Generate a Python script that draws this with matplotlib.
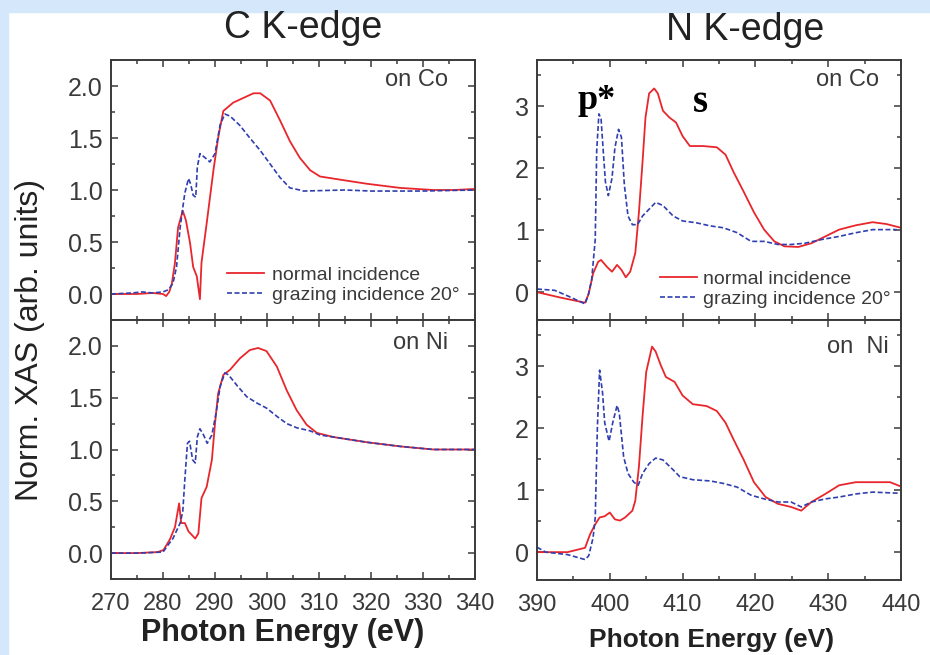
import matplotlib
matplotlib.use("Agg")
import matplotlib.pyplot as plt
from matplotlib import font_manager
from matplotlib.patches import Rectangle
from matplotlib.ticker import MultipleLocator

# pick fonts that exist here
names = {f.name for f in font_manager.fontManager.ttflist}
sans = "Liberation Sans" if "Liberation Sans" in names else "DejaVu Sans"
serif = "Liberation Serif" if "Liberation Serif" in names else "DejaVu Serif"
plt.rcParams["font.family"] = [sans, "DejaVu Sans"]

# C K-edge on Co
c_co_norm_e = [270, 275, 278, 280, 280.6, 281.2, 281.7, 282.3, 282.9, 283.8, 284.4, 285.2, 285.8, 286.5,
               287.1, 287.4, 288.4, 289.7, 290.6, 291.6, 293.5, 296.1, 297.4, 298.7, 300.6, 302.5, 304.4,
               306.3, 308.3, 310.2, 314.0, 319.2, 325.6, 332, 336, 340]
c_co_norm_y = [0, 0, 0.01, 0, -0.02, 0.02, 0.1, 0.3, 0.64, 0.80, 0.71, 0.49, 0.26, 0.17,
               -0.05, 0.3, 0.68, 1.19, 1.5, 1.76, 1.84, 1.90, 1.93, 1.93, 1.86, 1.67, 1.47,
               1.31, 1.19, 1.13, 1.10, 1.06, 1.02, 1.0, 1.0, 1.01]
c_co_graz_e = [270, 274, 276, 278, 280, 281, 281.9, 282.6, 283.3, 283.8, 284.2, 284.9, 285.3, 285.8,
               286.3, 286.6, 287.1, 288.1, 289.0, 290.0, 291.0, 291.9, 292.9, 294.8, 296.7, 298.7,
               300.6, 302.5, 304.4, 306.3, 307, 315, 320, 330, 340]
c_co_graz_y = [0, 0.01, 0.02, 0.01, 0.02, 0.04, 0.1, 0.26, 0.64, 0.83, 0.97, 1.11, 1.06, 0.95,
               0.93, 1.22, 1.35, 1.31, 1.27, 1.35, 1.63, 1.73, 1.71, 1.62, 1.50, 1.38,
               1.25, 1.12, 1.02, 1.0, 0.99, 1.0, 0.99, 0.99, 1.0]

# C K-edge on Ni
c_ni_norm_e = [270, 275, 279, 280.1, 281.3, 282.3, 283.1, 283.5, 284.2, 284.9, 286.2, 286.8, 287.4,
               288.4, 289.4, 290.0, 290.6, 291.6, 292.9, 294.8, 296.7, 298.3, 299.9, 301.9, 303.8,
               305.7, 307.6, 309.6, 312.8, 319.2, 325.6, 332, 340]
c_ni_norm_y = [0, 0, 0.01, 0.03, 0.13, 0.25, 0.48, 0.29, 0.29, 0.21, 0.14, 0.19, 0.53,
               0.64, 0.90, 1.25, 1.54, 1.72, 1.77, 1.88, 1.96, 1.98, 1.95, 1.80, 1.57,
               1.38, 1.24, 1.16, 1.12, 1.07, 1.03, 1.0, 1.0]
c_ni_graz_e = [270, 275, 280, 280.7, 281.9, 283.3, 283.8, 284.2, 284.7, 285.1, 285.7, 286.2, 286.6,
               287.1, 287.8, 288.5, 289.4, 290.2, 291.0, 291.9, 292.6, 294.2, 296.1, 298.0, 299.9,
               301.9, 303.8, 305.7, 308.3, 310.2, 312.8, 319.2, 325.6, 332, 340]
c_ni_graz_y = [0, 0, 0.01, 0.06, 0.14, 0.29, 0.40, 0.71, 1.06, 1.08, 0.90, 0.87, 1.12,
               1.20, 1.14, 1.06, 1.14, 1.35, 1.61, 1.74, 1.72, 1.62, 1.51, 1.45, 1.40,
               1.32, 1.25, 1.21, 1.18, 1.14, 1.12, 1.07, 1.03, 1.0, 1.0]

# N K-edge on Co
n_co_norm_e = [390, 393.3, 396.6, 397.1, 397.7, 398.4, 398.8, 399.6, 400.3, 401.0, 401.6, 402.2, 402.8,
               403.5, 404.0, 404.5, 404.9, 405.4, 406.1, 406.6, 407.3, 408.2, 409.1, 410.0, 411.0,
               412.8, 414.7, 415.9, 417.0, 418.4, 419.8, 421.2, 422.6, 424.0, 425.9, 427.7, 429.6,
               431.5, 433.8, 436.1, 438.0, 440]
n_co_norm_y = [0, -0.09, -0.17, -0.03, 0.30, 0.49, 0.52, 0.41, 0.33, 0.44, 0.36, 0.24, 0.33,
               0.63, 1.29, 2.11, 2.82, 3.21, 3.29, 3.21, 2.93, 2.82, 2.74, 2.52, 2.36,
               2.36, 2.34, 2.22, 1.94, 1.62, 1.29, 1.01, 0.82, 0.74, 0.73, 0.79, 0.90,
               1.01, 1.08, 1.13, 1.10, 1.04]
n_co_graz_e = [390, 392.4, 394.2, 396.6, 397.0, 397.5, 398.0, 398.2, 398.5, 398.8, 399.1, 399.4, 399.8,
               400.3, 400.7, 401.2, 401.6, 402.0, 402.5, 403.1, 403.8, 404.5, 405.4, 406.3, 407.3,
               408.7, 410.0, 411.9, 413.8, 415.6, 417.5, 419.4, 421.2, 423.1, 424.9, 426.8, 429.1,
               431.5, 433.8, 436.1, 439.4]
n_co_graz_y = [0.05, 0.03, -0.06, -0.19, -0.06, 0.19, 0.85, 2.28, 2.88, 2.80, 2.28, 1.78, 1.56,
               1.84, 2.33, 2.63, 2.50, 1.73, 1.23, 1.09, 1.09, 1.23, 1.34, 1.45, 1.40,
               1.23, 1.15, 1.12, 1.07, 1.04, 0.96, 0.82, 0.82, 0.77, 0.77, 0.79, 0.85,
               0.90, 0.96, 1.01, 1.01]

# N K-edge on Ni
n_ni_norm_e = [390, 394.2, 396.6, 397.3, 398.0, 398.6, 399.3, 400.0, 400.7, 401.4, 402.1, 403.1, 403.5,
               404.0, 404.5, 405.0, 405.8, 406.3, 407.0, 407.7, 408.9, 410.0, 411.4, 413.3, 414.7,
               415.9, 417.0, 418.4, 419.8, 421.4, 423.1, 424.9, 426.3, 427.7, 429.6, 431.5, 433.8,
               436.1, 438.5, 440]
n_ni_norm_y = [0, 0, 0.07, 0.29, 0.45, 0.56, 0.58, 0.64, 0.53, 0.51, 0.56, 0.67, 0.83,
               1.38, 2.20, 2.91, 3.32, 3.24, 3.02, 2.83, 2.75, 2.53, 2.39, 2.36, 2.28,
               2.09, 1.82, 1.49, 1.13, 0.89, 0.78, 0.73, 0.67, 0.81, 0.94, 1.08, 1.13,
               1.13, 1.13, 1.06]
n_ni_graz_e = [390, 391.2, 394.2, 396.6, 397.1, 397.7, 398.0, 398.3, 398.6, 399.0, 399.3, 399.9, 400.4,
               401.0, 401.3, 401.9, 402.5, 403.3, 403.9, 404.5, 405.4, 406.3, 407.3, 408.7, 409.6,
               411.4, 413.8, 415.6, 417.5, 419.4, 421.2, 423.1, 424.9, 426.3, 427.7, 429.6, 431.5,
               433.8, 436.1, 440]
n_ni_graz_y = [0.08, 0.0, -0.04, -0.12, -0.06, 0.23, 0.56, 2.04, 2.94, 2.58, 2.09, 1.79, 2.09,
               2.37, 2.25, 1.54, 1.27, 1.13, 1.08, 1.27, 1.43, 1.52, 1.49, 1.33, 1.22,
               1.17, 1.15, 1.11, 1.05, 0.92, 0.86, 0.81, 0.81, 0.73, 0.81, 0.86, 0.89,
               0.94, 0.97, 0.95]

red = "#e8262c"
blue = "#2f3fb0"
grey = "#3a3a3a"

fig = plt.figure(figsize=(9.3, 6.55), dpi=100)
fig.patch.set_facecolor("white")
# light blue frame strips
fig.patches.append(Rectangle((0, 643 / 655), 1, 12 / 655, transform=fig.transFigure,
                             color="#d5e8fb", zorder=0))
fig.patches.append(Rectangle((0, 0), 8 / 930, 1, transform=fig.transFigure,
                             color="#d5e8fb", zorder=0))

W, H = 930, 655
def make_ax(x0, y_top, y_bot, x1):
    return fig.add_axes([x0 / W, (H - y_bot) / H, (x1 - x0) / W, (y_bot - y_top) / H])

ax_cco = make_ax(111, 60, 320, 475)
ax_cni = make_ax(111, 320, 579, 475)
ax_nco = make_ax(537, 60, 320, 901)
ax_nni = make_ax(537, 320, 580, 901)

def style(ax, xlim, ylim, ymaj, ymin, ylabfmt, show_x):
    ax.set_xlim(*xlim)
    ax.set_ylim(*ylim)
    ax.xaxis.set_major_locator(MultipleLocator(10))
    ax.xaxis.set_minor_locator(MultipleLocator(5))
    ax.yaxis.set_major_locator(MultipleLocator(ymaj))
    ax.yaxis.set_minor_locator(MultipleLocator(ymin))
    ax.yaxis.set_major_formatter(ylabfmt)
    ax.tick_params(which="both", direction="in", top=True, right=True, color=grey, width=1.1)
    ax.tick_params(which="major", length=5)
    ax.tick_params(which="minor", length=3)
    ax.tick_params(axis="y", labelsize=18, labelcolor=grey, pad=6)
    ax.tick_params(axis="x", labelsize=17, labelcolor=grey, pad=10)
    if not show_x:
        ax.tick_params(axis="x", labelbottom=False)
    for sp in ax.spines.values():
        sp.set_color(grey)
        sp.set_linewidth(1.4)

def draw(ax, e1, y1, e2, y2):
    ax.plot(e1, y1, color=red, lw=1.3, label="normal incidence")
    ax.plot(e2, y2, color=blue, lw=1.2, ls=(0, (3, 1.5)), label="grazing incidence 20°")

draw(ax_cco, c_co_norm_e, c_co_norm_y, c_co_graz_e, c_co_graz_y)
draw(ax_cni, c_ni_norm_e, c_ni_norm_y, c_ni_graz_e, c_ni_graz_y)
draw(ax_nco, n_co_norm_e, n_co_norm_y, n_co_graz_e, n_co_graz_y)
draw(ax_nni, n_ni_norm_e, n_ni_norm_y, n_ni_graz_e, n_ni_graz_y)

style(ax_cco, (270, 340), (-0.25, 2.25), 0.5, 0.25, "{x:.1f}", False)
style(ax_cni, (270, 340), (-0.25, 2.25), 0.5, 0.25, "{x:.1f}", True)
style(ax_nco, (390, 440), (-0.45, 3.75), 1, 0.5, "{x:.0f}", False)
style(ax_nni, (390, 440), (-0.45, 3.75), 1, 0.5, "{x:.0f}", True)

ax_cco.legend(loc="lower left", bbox_to_anchor=(0.27, -0.005), frameon=False, fontsize=14,
              handlelength=1.9, handletextpad=0.4, labelspacing=0.1, labelcolor=grey)
ax_nco.legend(loc="lower left", bbox_to_anchor=(0.29, -0.02), frameon=False, fontsize=14,
              handlelength=1.9, handletextpad=0.3, labelspacing=0.1, labelcolor=grey)

ax_cco.text(0.925, 0.925, "on Co", transform=ax_cco.transAxes, ha="right", va="center",
            fontsize=17, color=grey)
ax_cni.text(0.925, 0.91, "on Ni", transform=ax_cni.transAxes, ha="right", va="center",
            fontsize=17, color=grey)
ax_nco.text(0.94, 0.925, "on Co", transform=ax_nco.transAxes, ha="right", va="center",
            fontsize=17, color=grey)
ax_nni.text(0.965, 0.895, "on  Ni", transform=ax_nni.transAxes, ha="right", va="center",
            fontsize=17, color=grey)

ax_nco.text(398.2, 3.1, "p*", ha="center", va="center", fontsize=26, fontweight="bold",
            family=[serif, "DejaVu Serif"], color="black")
ax_nco.text(412.4, 3.06, "s", ha="center", va="center", fontsize=28, fontweight="bold",
            family=[serif, "DejaVu Serif"], color="black")

fig.text(303 / W, 1 - 28 / H, "C K-edge", ha="center", va="center", fontsize=27, color="#222222")
fig.text(745 / W, 1 - 30 / H, "N K-edge", ha="center", va="center", fontsize=27, color="#222222")
fig.text(30 / W, 1 - 340 / H, "Norm. XAS (arb. units)", rotation=90, ha="center", va="center",
         fontsize=23, color="#222222")
fig.text(283 / W, 1 - 633 / H, "Photon Energy (eV)", ha="center", va="center", fontsize=22,
         fontweight="bold", color="#222222")
fig.text(712 / W, 1 - 640 / H, "Photon Energy (eV)", ha="center", va="center", fontsize=19,
         fontweight="bold", color="#222222")

fig.savefig("out.png", dpi=100, facecolor=fig.get_facecolor())
